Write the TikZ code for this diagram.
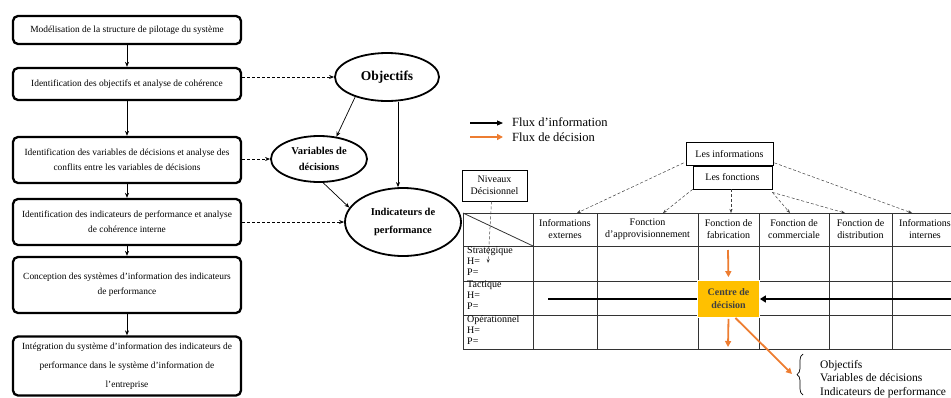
\documentclass[tikz,border=0pt]{standalone}
\usepackage{fontspec}
\setmainfont{Liberation Serif}
\usetikzlibrary{shapes.geometric,arrows.meta,decorations.pathreplacing,calc}
\definecolor{orarrow}{HTML}{ED7D31}
\definecolor{orbox}{HTML}{FFC000}
\definecolor{boxtext}{HTML}{404040}
\begin{document}
\begin{tikzpicture}[x=1pt,y=-1pt,
  stepbox/.style={draw, line width=2.3pt, rounded corners=5pt, minimum width=228pt, align=center,
    font=\fontsize{9.4}{15}\selectfont, inner sep=0pt},
  ell/.style={draw, ellipse, line width=1.8pt, align=center, inner sep=0pt},
  arr/.style={line width=0.7pt, -{Stealth[length=5pt,width=4pt]}},
  darr/.style={line width=0.7pt, dash pattern=on 3pt off 2pt, -{Stealth[length=5pt,width=4pt]}},
  sdarr/.style={line width=0.5pt, dash pattern=on 3pt off 2pt, draw=black!75, -{Stealth[length=4pt,width=3pt]}},
  tbl/.style={line width=0.8pt, draw=black!80},
  tcell/.style={align=center, font=\fontsize{10}{12}\selectfont, inner sep=0pt},
  rowlab/.style={anchor=north west, align=left, font=\fontsize{10}{11}\selectfont, inner sep=0pt},
  smallbox/.style={draw, line width=0.7pt, align=center, font=\fontsize{10}{12}\selectfont, inner sep=0pt},
  orarr/.style={draw=orarrow, line width=1.8pt, -{Triangle[length=6pt,width=6pt]}},
  thickline/.style={line width=2.6pt}
]
\useasboundingbox (0,0) rectangle (951,397);
\clip (0,0) rectangle (951,397);

% ---------- left flow ----------
\node[stepbox, minimum height=28pt] (b1) at (127,30) {Modélisation de la structure de pilotage du système};
\node[stepbox, minimum height=32pt] (b2) at (127,84) {Identification des objectifs et analyse de cohérence};
\node[stepbox, minimum height=46pt] (b3) at (127,160) {Identification des variables de décisions et analyse des\\conflits entre les variables de décisions};
\node[stepbox, minimum height=46pt] (b4) at (127,222) {Identification des indicateurs de performance et analyse\\de cohérence interne};
\node[stepbox, minimum height=56pt] (b5) at (127,285) {Conception des systèmes d’information des indicateurs\\de performance};
\node[stepbox, minimum height=59pt, font=\fontsize{9.4}{19}\selectfont] (b6) at (127,366) {Intégration du système d’information des indicateurs de\\performance dans le système d’information de\\l’entreprise};

\draw[arr] (b1) -- (b2);
\draw[arr] (b2) -- (b3);
\draw[arr] (b3) -- (b4);
\draw[arr] (b4) -- (b5);
\draw[arr] (b5) -- (b6);

% ellipses
\node[ell, minimum width=104pt, minimum height=48pt, font=\bfseries\fontsize{13.5}{15}\selectfont] (obj) at (387,77) {Objectifs};
\node[ell, minimum width=96pt, minimum height=46pt, font=\bfseries\fontsize{10.5}{16}\selectfont] (var) at (319,159) {Variables de\\décisions};
\node[ell, minimum width=116pt, minimum height=68pt, font=\bfseries\fontsize{10.5}{18}\selectfont] (ind) at (403,222) {Indicateurs de\\performance};

\draw[darr] (b2.east |- obj.west) -- (obj.west);
\draw[darr] (b3.east |- var.west) -- (var.west);
\draw[darr] (b4.east |- ind.west) -- (ind.west);

\draw[arr] (obj.212) -- (var.52);
\coordinate (ox) at (398,0);
\draw[arr] (obj.south -| ox) -- (ind.north -| ox);
\draw[arr] (var.-80) -- (ind.165);

% ---------- legend ----------
\coordinate (l1a) at (470,123);
\coordinate (l1b) at (503,123);
\coordinate (l2a) at (470,137);
\coordinate (l2b) at (503,137);
\draw[line width=1.1pt, -{Triangle[length=6pt,width=5pt]}] (l1a) -- (l1b);
\draw[orarr] (l2a) -- (l2b);
\node[anchor=west, inner sep=0pt, font=\fontsize{12.5}{14}\selectfont] (lt1) at (512,122) {Flux d’information};
\node[anchor=west, inner sep=0pt, font=\fontsize{12.5}{14}\selectfont] (lt2) at (512,137) {Flux de décision};

% ---------- table ----------
\foreach \y in {213,246,281,315,349} \draw[tbl] (463,\y) -- (960,\y);
\foreach \x in {463,533,597,698,759,829,892} \draw[tbl] (\x,213) -- (\x,349);
\draw[tbl] (463,213) -- (533,246);

\node[tcell] (h1) at (565,229) {Informations\\externes};
\node[tcell] (h2) at (647.5,229) {Fonction\\d’approvisionnement};
\node[tcell] (h3) at (728.5,229) {Fonction de\\fabrication};
\node[tcell] (h4) at (794,229) {Fonction de\\commerciale};
\node[tcell] (h5) at (860.5,229) {Fonction de\\distribution};
\node[tcell] (h6) at (925,229) {Informations\\internes};

\node[rowlab] (r1) at (467,246) {Stratégique\\H=\\P=};
\node[rowlab] (r2) at (467,281) {Tactique\\H=\\P=};
\node[rowlab] (r3) at (467,315) {Opérationnel\\H=\\P=};

% header boxes
\node[smallbox, minimum width=65pt, minimum height=31pt] (niv) at (494.5,185.5) {Niveaux\\Décisionnel};
\node[smallbox, minimum width=79pt, minimum height=23pt, fill=white] (fonc) at (732.5,177.5) {Les fonctions};
\node[smallbox, minimum width=87pt, minimum height=23pt, fill=white] (info) at (729.5,154) {Les informations};

\coordinate (nivend) at (488,263);
\draw[sdarr] ($(niv.south)+(-3,0)$) -- (nivend);

\coordinate (t1) at (577,213);
\coordinate (t2) at (663,213);
\coordinate (t3) at (731,213);
\coordinate (t4) at (790,213);
\coordinate (t5) at (845,213);
\coordinate (t6) at (912,213);
\draw[sdarr] ($(info.south west)+(-2,-3)$) -- (t1);
\draw[sdarr] ($(info.south east)+(1,-3)$) -- (t6);
\draw[sdarr] (fonc.south west) -- (t2);
\draw[sdarr] (fonc.south -| t3) -- (t3);
\draw[sdarr] ($(fonc.south east)+(0,3)$) -- (t4);
\draw[sdarr] ($(fonc.south east)+(0,3)$) -- (t5);

% centre de decision
\node[fill=orbox, draw=white, line width=0.8pt, minimum width=62pt, minimum height=37pt, align=center,
  text=boxtext, font=\bfseries\fontsize{10}{13}\selectfont, inner sep=0pt] (cd) at (728.5,299) {Centre de\\décision};

\coordinate (bl) at (548,299);
\coordinate (br) at (960,299);
\draw[thickline] (bl) -- (cd.west);
\draw[thickline, -{Triangle[length=6pt,width=7pt]}] (br) -- (cd.east);

\coordinate (oa) at (728,250);
\coordinate (ob) at (728,347);
\draw[orarr, shorten >=3pt] (oa) -- (cd.north);
\draw[orarr, shorten <=1pt] (cd.south) -- (ob);

% brace + list
\draw[line width=0.7pt, decorate, decoration={brace, amplitude=6pt}] (803,395) -- (803,354);
\coordinate (btip) at (792,374);
\draw[orarr] (cd.290) -- (btip);
\node[anchor=north west, align=left, inner sep=0pt, font=\fontsize{11.5}{13.5}\selectfont] (lst) at (820,360) {Objectifs\\Variables de décisions\\Indicateurs de performance};
\end{tikzpicture}
\end{document}
